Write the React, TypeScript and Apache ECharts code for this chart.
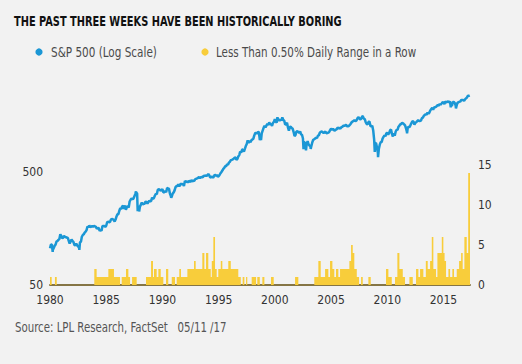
import React, { useEffect, useRef } from "react";
import * as echarts from "echarts";

const TITLE = "THE PAST THREE WEEKS HAVE BEEN HISTORICALLY BORING";
const SOURCE = "Source: LPL Research, FactSet   05/11 /17";
const SERIES_NAMES = ["S&P 500 (Log Scale)", "Less Than 0.50% Daily Range in a Row"];
const LEFT_TICKS = [50, 500];
const RIGHT_TICKS = [0, 5, 10, 15];
const X_TICKS = [1980, 1985, 1990, 1995, 2000, 2005, 2010, 2015];

// S&P 500 month-end closes, Jan 1980 .. Apr 2017
const SPX_FIRST_YEAR = 1980;
const SPX_OPEN: [number, number] = [1980.0, 105.8];
const SPX_MONTHLY = [
  114.16, 113.66, 102.09, 106.29, 111.24, 114.24, 121.67, 122.38, 125.46, 127.47, 140.52, 135.76,
  129.55, 131.27, 136.0, 132.81, 132.59, 131.21, 130.92, 122.79, 116.18, 121.89, 126.35, 122.55,
  120.4, 113.11, 111.96, 116.44, 111.88, 109.61, 107.09, 119.51, 120.42, 133.71, 138.54, 140.64,
  145.3, 148.06, 152.96, 164.42, 162.39, 168.11, 162.56, 164.4, 166.07, 163.55, 166.4, 164.93,
  163.41, 157.06, 159.18, 160.05, 150.55, 153.18, 150.66, 166.68, 166.1, 166.09, 163.58, 167.24,
  179.63, 181.18, 180.66, 179.83, 189.55, 191.85, 190.92, 188.63, 182.08, 189.82, 202.17, 211.28,
  211.78, 226.92, 238.9, 235.52, 247.35, 250.84, 236.12, 252.93, 231.32, 243.98, 249.22, 242.17,
  274.08, 284.2, 291.7, 288.36, 290.1, 304.0, 318.66, 329.8, 321.83, 251.79, 230.3, 247.08,
  257.07, 267.82, 258.89, 261.33, 262.16, 273.5, 272.02, 261.52, 271.91, 278.97, 273.7, 277.72,
  297.47, 288.86, 294.87, 309.64, 320.52, 317.98, 346.08, 351.45, 349.15, 340.36, 345.99, 353.4,
  329.08, 331.89, 339.94, 330.8, 361.23, 358.02, 356.15, 322.56, 306.05, 304.0, 322.22, 330.22,
  343.93, 367.07, 375.22, 375.35, 389.83, 371.16, 387.81, 395.43, 387.86, 392.46, 375.22, 417.09,
  408.79, 412.7, 403.69, 414.95, 415.35, 408.14, 424.21, 414.03, 417.8, 418.68, 431.35, 435.71,
  438.78, 443.38, 451.67, 440.19, 450.19, 450.53, 448.13, 463.56, 458.93, 467.83, 461.79, 466.45,
  481.61, 467.14, 445.77, 450.91, 456.5, 444.27, 458.26, 475.49, 462.69, 472.35, 453.69, 459.27,
  470.42, 487.39, 500.71, 514.71, 533.4, 544.75, 562.06, 561.88, 584.41, 581.5, 605.37, 615.93,
  636.02, 640.43, 645.5, 654.17, 669.12, 670.63, 639.95, 651.99, 687.31, 705.27, 757.02, 740.74,
  786.16, 790.82, 757.12, 801.34, 848.28, 885.14, 954.29, 899.47, 947.28, 914.62, 955.4, 970.43,
  980.28, 1049.34, 1101.75, 1111.75, 1090.82, 1133.84, 1120.67, 957.28, 1017.01, 1098.67, 1163.63, 1229.23,
  1279.64, 1238.33, 1286.37, 1335.18, 1301.84, 1372.71, 1328.72, 1320.41, 1282.71, 1362.93, 1388.91, 1469.25,
  1394.46, 1366.42, 1498.58, 1452.43, 1420.6, 1454.6, 1430.83, 1517.68, 1436.51, 1429.4, 1314.95, 1320.28,
  1366.01, 1239.94, 1160.33, 1249.46, 1255.82, 1224.42, 1211.23, 1133.58, 1040.94, 1059.78, 1139.45, 1148.08,
  1130.2, 1106.73, 1147.39, 1076.92, 1067.14, 989.82, 911.62, 916.07, 815.28, 885.76, 936.31, 879.82,
  855.7, 841.15, 848.18, 916.92, 963.59, 974.5, 990.31, 1008.01, 995.97, 1050.71, 1058.2, 1111.92,
  1131.13, 1144.94, 1126.21, 1107.3, 1120.68, 1140.84, 1101.72, 1104.24, 1114.58, 1130.2, 1173.82, 1211.92,
  1181.27, 1203.6, 1180.59, 1156.85, 1191.5, 1191.33, 1234.18, 1220.33, 1228.81, 1207.01, 1249.48, 1248.29,
  1280.08, 1280.66, 1294.87, 1310.61, 1270.09, 1270.2, 1276.66, 1303.82, 1335.85, 1377.94, 1400.63, 1418.3,
  1438.24, 1406.82, 1420.86, 1482.37, 1530.62, 1503.35, 1455.27, 1473.99, 1526.75, 1549.38, 1481.14, 1468.36,
  1378.55, 1330.63, 1322.7, 1385.59, 1400.38, 1280.0, 1267.38, 1282.83, 1166.36, 968.75, 896.24, 903.25,
  825.88, 735.09, 797.87, 872.81, 919.14, 919.32, 987.48, 1020.62, 1057.08, 1036.19, 1095.63, 1115.1,
  1073.87, 1104.49, 1169.43, 1186.69, 1089.41, 1030.71, 1101.6, 1049.33, 1141.2, 1183.26, 1180.55, 1257.64,
  1286.12, 1327.22, 1325.83, 1363.61, 1345.2, 1320.64, 1292.28, 1218.89, 1131.42, 1253.3, 1246.96, 1257.6,
  1312.41, 1365.68, 1408.47, 1397.91, 1310.33, 1362.16, 1379.32, 1406.58, 1440.67, 1412.16, 1416.18, 1426.19,
  1498.11, 1514.68, 1569.19, 1597.57, 1630.74, 1606.28, 1685.73, 1632.97, 1681.55, 1756.54, 1805.81, 1848.36,
  1782.59, 1859.45, 1872.34, 1883.95, 1923.57, 1960.23, 1930.67, 2003.37, 1972.29, 2018.05, 2067.56, 2058.9,
  1994.99, 2104.5, 2067.89, 2085.51, 2107.39, 2063.11, 2103.84, 1972.18, 1920.03, 2079.36, 2080.41, 2043.94,
  1940.24, 1932.23, 2059.74, 2065.3, 2096.95, 2098.86, 2173.6, 2170.95, 2168.27, 2126.15, 2198.81, 2238.83,
  2278.87, 2363.64, 2362.72, 2384.2,
];
// intra-month highs / lows and the last reading (May 11, 2017)
const SPX_EXTREMES: [number, number][] = [
  [1980.24, 98.2], [1982.61, 102.4], [1987.65, 336.8], [1987.8, 224.8], [1987.93, 223.9],
  [1990.78, 295.5], [1998.77, 959.4], [2000.23, 1527.5], [2002.55, 797.7], [2002.77, 776.8],
  [2003.19, 800.7], [2007.77, 1565.2], [2008.89, 752.4], [2009.18, 676.5], [2010.5, 1022.6],
  [2011.76, 1099.2], [2015.65, 1867.6], [2016.11, 1829.1], [2017.36, 2394.4],
];

// streak length of days with < 0.50% range (step points: value holds until next point)
const STREAKS: [number, number][] = [
  [1980.0, 1], [1980.15, 0], [1980.44, 1], [1980.6, 0], [1983.94, 2], [1984.15, 1], [1985.19, 2],
  [1985.69, 1], [1986.23, 0], [1986.38, 1], [1986.76, 2], [1986.97, 1], [1987.12, 0], [1987.3, 1],
  [1987.71, 0], [1988.54, 1], [1988.99, 3], [1989.16, 1], [1989.25, 2], [1989.49, 1], [1989.64, 2],
  [1989.85, 1], [1990.08, 0], [1990.32, 2], [1990.52, 0], [1990.83, 1], [1991.12, 0], [1991.27, 1],
  [1991.5, 2], [1991.65, 1], [1992.22, 2], [1992.81, 3], [1992.96, 2], [1993.55, 4], [1993.73, 2],
  [1993.88, 4], [1994.08, 2], [1994.3, 1], [1994.39, 3], [1994.53, 6], [1994.68, 2], [1994.83, 1],
  [1994.97, 2], [1995.19, 3], [1995.33, 2], [1995.86, 3], [1996.08, 2], [1996.75, 1], [1996.97, 0],
  [1997.14, 1], [1997.29, 0], [1997.44, 1], [1997.55, 0], [1997.94, 1], [1998.33, 0], [1998.44, 1],
  [1998.66, 0], [1998.89, 1], [1999.07, 0], [1999.66, 1], [1999.9, 0], [2001.8, 1], [2002.09, 0],
  [2003.51, 1], [2003.87, 3], [2004.08, 1], [2004.47, 2], [2004.76, 1], [2004.91, 3], [2005.12, 2],
  [2005.29, 1], [2005.44, 2], [2005.65, 1], [2005.8, 2], [2006.63, 3], [2006.78, 5], [2006.93, 4],
  [2007.07, 2], [2007.29, 1], [2007.49, 0], [2007.67, 1], [2007.82, 0], [2008.32, 1], [2008.53, 0],
  [2009.89, 2], [2010.1, 1], [2010.4, 0], [2010.69, 1], [2010.9, 4], [2011.08, 2], [2011.38, 1],
  [2011.58, 0], [2011.97, 1], [2012.27, 0], [2012.56, 2], [2012.77, 1], [2012.92, 2], [2013.21, 1],
  [2013.43, 3], [2013.6, 2], [2013.81, 3], [2013.96, 6], [2014.1, 2], [2014.34, 1], [2014.46, 4],
  [2014.85, 6], [2014.99, 4], [2015.1, 3], [2015.23, 1], [2015.44, 2], [2015.59, 1], [2015.79, 2],
  [2015.94, 1], [2016.18, 2], [2016.39, 3], [2016.57, 4], [2016.71, 2], [2016.86, 6], [2017.07, 4],
  [2017.2, 14], [2017.36, 14],
];

const X_MIN = 1980;
const X_MAX = 2017.36;

const FONT = "'DejaVu Sans Condensed', 'DejaVu Sans', sans-serif";
const BLUE = "#1b97d5";
const YELLOW = "#f8cd3b";
const TEXT_GREY = "#4a4a4a";

export default function App() {
  const ref = useRef<HTMLDivElement>(null);
  useEffect(() => {
    if (!ref.current) return;
    const chart = echarts.init(ref.current, undefined, { renderer: "svg" });
    const spx: [number, number][] = [SPX_OPEN];
    SPX_MONTHLY.forEach((v, i) => spx.push([SPX_FIRST_YEAR + (i + 1) / 12, v]));
    SPX_EXTREMES.forEach((p) => spx.push(p));
    spx.sort((a, b) => a[0] - b[0]);

    chart.setOption({
      animation: false,
      backgroundColor: "#f2f2f2",
      textStyle: { fontFamily: FONT },
      graphic: [
        {
          type: "text",
          x: 14,
          y: 14,
          scaleX: 0.78,
          style: {
            text: TITLE,
            fontFamily: FONT,
            fontSize: 14,
            fontWeight: "bold",
            fill: "#111",
            textVerticalAlign: "top",
          },
        },
        { type: "circle", shape: { cx: 39, cy: 52, r: 3.6 }, style: { fill: BLUE } },
        {
          type: "text",
          x: 51,
          y: 52,
          scaleX: 0.83,
          style: {
            text: SERIES_NAMES[0],
            fontFamily: FONT,
            fontSize: 14,
            fill: TEXT_GREY,
            textVerticalAlign: "middle",
          },
        },
        { type: "circle", shape: { cx: 205, cy: 52, r: 3.6 }, style: { fill: YELLOW } },
        {
          type: "text",
          x: 216,
          y: 52,
          scaleX: 0.82,
          style: {
            text: SERIES_NAMES[1],
            fontFamily: FONT,
            fontSize: 14,
            fill: TEXT_GREY,
            textVerticalAlign: "middle",
          },
        },
        {
          type: "text",
          x: 15,
          y: 327,
          scaleX: 0.81,
          style: {
            text: SOURCE,
            fontFamily: FONT,
            fontSize: 14,
            fill: "#555",
            textVerticalAlign: "middle",
          },
        },
      ],
      grid: [
        { left: 50, right: 52, top: 59, bottom: 79 },
        { left: 50, right: 52, top: 165, bottom: 79 },
      ],
      xAxis: [
        { type: "value", gridIndex: 0, min: X_MIN, max: X_MAX, show: false },
        {
          type: "value",
          gridIndex: 1,
          min: X_MIN,
          max: X_MAX,
          interval: 5,
          axisLine: { show: true, lineStyle: { color: "#857545", width: 2 } },
          axisTick: { show: false },
          splitLine: { show: false },
          axisLabel: {
            margin: 9,
            fontSize: 12,
            color: "#333",
            fontFamily: FONT,
            customValues: X_TICKS,
            formatter: (v: number) => String(Math.round(v)),
          },
        },
      ],
      yAxis: [
        {
          type: "log",
          gridIndex: 0,
          logBase: 10,
          min: 50,
          max: 5000,
          axisLine: { show: false },
          axisTick: { show: false },
          splitLine: { show: false },
          axisLabel: {
            margin: 7,
            fontSize: 12,
            color: "#333",
            fontFamily: FONT,
            customValues: LEFT_TICKS,
            formatter: (v: number) => String(Math.round(v)),
          },
        },
        {
          type: "value",
          gridIndex: 1,
          position: "right",
          min: 0,
          max: 15,
          interval: 5,
          axisLine: { show: false },
          axisTick: { show: false },
          splitLine: { show: false },
          axisLabel: {
            margin: 8,
            fontSize: 12,
            color: "#333",
            fontFamily: FONT,
            customValues: RIGHT_TICKS,
            formatter: (v: number) => String(Math.round(v)),
          },
        },
      ],
      series: [
        {
          name: SERIES_NAMES[1],
          type: "line",
          xAxisIndex: 1,
          yAxisIndex: 1,
          step: "end",
          showSymbol: false,
          data: STREAKS,
          itemStyle: { color: YELLOW },
          lineStyle: { width: 0, color: YELLOW },
          areaStyle: { color: YELLOW, opacity: 1 },
          z: 1,
        },
        {
          name: SERIES_NAMES[0],
          type: "line",
          xAxisIndex: 0,
          yAxisIndex: 0,
          showSymbol: false,
          data: spx,
          itemStyle: { color: BLUE },
          lineStyle: { width: 2.5, color: BLUE },
          z: 3,
        },
      ],
    });
    return () => chart.dispose();
  }, []);
  return (
    <div
      ref={ref}
      style={{ position: "fixed", left: 0, top: 0, width: 522, height: 364 }}
    />
  );
}
